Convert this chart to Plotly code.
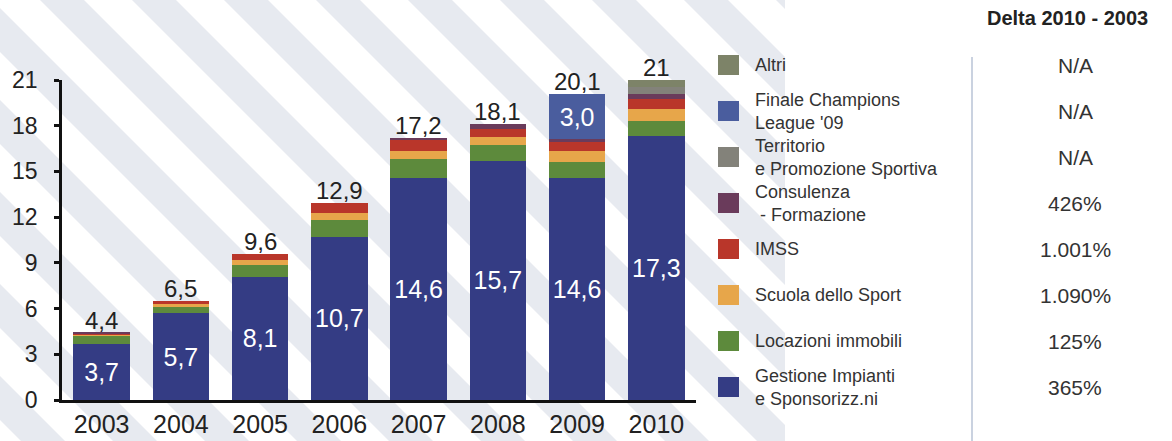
import plotly.graph_objects as go

# ---------------- data ----------------
years = ["2003", "2004", "2005", "2006", "2007", "2008", "2009", "2010"]
gestione = [3.7, 5.7, 8.1, 10.7, 14.6, 15.7, 14.6, 17.3]
locazioni = [0.5, 0.4, 0.75, 1.1, 1.2, 1.05, 1.0, 1.0]
scuola = [0.07, 0.2, 0.35, 0.45, 0.55, 0.5, 0.75, 0.8]
imss = [0.07, 0.2, 0.4, 0.65, 0.7, 0.55, 0.6, 0.65]
consulenza = [0.06, 0.0, 0.0, 0.0, 0.15, 0.3, 0.15, 0.35]
territorio = [0, 0, 0, 0, 0, 0, 0, 0.45]
champions = [0, 0, 0, 0, 0, 0, 3.0, 0]
altri = [0, 0, 0, 0, 0, 0, 0, 0.45]
totals = [4.4, 6.5, 9.6, 12.9, 17.2, 18.1, 20.1, 21]

legend_names = ["Altri", "Finale Champions<br>League '09", "Territorio<br>e Promozione Sportiva",
                "Consulenza<br>\u00a0- Formazione", "IMSS", "Scuola dello Sport",
                "Locazioni immobili", "Gestione Impianti<br>e Sponsorizz.ni"]
delta_values = ["N/A", "N/A", "N/A", "426%", "1.001%", "1.090%", "125%", "365%"]
delta_title = "Delta 2010 - 2003"
y_ticks = [0, 3, 6, 9, 12, 15, 18, 21]

# ---------------- style ----------------
FONT = "Liberation Sans, Arial, Helvetica, sans-serif"
TXT = "#222222"
colors = {
    "gestione": "#343c84",
    "locazioni": "#5d8a3c",
    "scuola": "#e7a64a",
    "imss": "#b9362a",
    "consulenza": "#6a3b5b",
    "territorio": "#83827a",
    "champions": "#4a5d9e",
    "altri": "#7d8368",
}
legend_colors = [colors["altri"], colors["champions"], colors["territorio"], colors["consulenza"],
                 colors["imss"], colors["scuola"], colors["locazioni"], colors["gestione"]]

W, H = 1172, 441
L, R, T, B = 62, 476, 80, 41
PW, PH = W - L - R, H - T - B


def px(x):
    return (x - L) / PW


def py(y):
    return (H - B - y) / PH


def fmt(v):
    if float(v).is_integer():
        return str(int(v))
    return f"{v:.1f}".replace(".", ",")


fig = go.Figure()

stack = [
    ("gestione", gestione, True),
    ("locazioni", locazioni, False),
    ("scuola", scuola, False),
    ("imss", imss, False),
    ("consulenza", consulenza, False),
    ("territorio", territorio, False),
    ("champions", champions, True),
    ("altri", altri, False),
]
for key, vals, labelled in stack:
    fig.add_trace(go.Bar(
        x=years, y=vals, name=key,
        marker=dict(color=colors[key], line=dict(width=0)),
        text=[f"{v:.1f}".replace(".", ",") if (labelled and v) else "" for v in vals],
        textposition="inside" if labelled else "none",
        insidetextanchor="middle",
        textangle=0,
        constraintext="none",
        insidetextfont=dict(family=FONT, size=25, color="white"),
        showlegend=False,
        hoverinfo="x+y+name",
    ))

# totals above bars (category index positions)
annotations = []
for i, t in enumerate(totals):
    annotations.append(dict(x=i, y=t, xref="x", yref="y", text=fmt(t), showarrow=False,
                            yanchor="bottom", yshift=-3,
                            font=dict(family=FONT, size=24, color=TXT)))

# background diagonal stripes (decoration)
shapes = []
XMAX = 785


def clip_poly(pts, xmax):
    out = []
    n = len(pts)
    for i in range(n):
        a, b = pts[i], pts[(i + 1) % n]
        ain, bin_ = a[0] <= xmax, b[0] <= xmax
        if ain:
            out.append(a)
        if ain != bin_:
            t = (xmax - a[0]) / (b[0] - a[0])
            out.append((xmax, a[1] + t * (b[1] - a[1])))
    return out


band_w = 44
for k in range(-8, 10):
    x0 = k * 92 + 20
    pts = [(x0, -20), (x0 + band_w, -20), (x0 + band_w + H + 40, H + 20), (x0 + H + 40, H + 20)]
    pts = clip_poly(pts, XMAX)
    if len(pts) < 3:
        continue
    path = "M " + " L ".join(f"{px(x):.5f},{py(y):.5f}" for x, y in pts) + " Z"
    shapes.append(dict(type="path", xref="paper", yref="paper", path=path,
                       fillcolor="#e7eaf0", line=dict(width=0), layer="below"))

# custom legend + delta column
row0, row_step = 65, 46
for i, (name, col, dv) in enumerate(zip(legend_names, legend_colors, delta_values)):
    yc = row0 + i * row_step
    shapes.append(dict(type="rect", xref="paper", yref="paper",
                       x0=px(718), x1=px(739), y0=py(yc - 10), y1=py(yc + 10),
                       fillcolor=col, line=dict(width=0), layer="above"))
    annotations.append(dict(x=px(753), y=py(yc), xref="paper", yref="paper", text=name,
                            showarrow=False, xanchor="left", yanchor="middle", align="left",
                            font=dict(family=FONT, size=18, color="#333333")))
    annotations.append(dict(x=px(1075), y=py(yc), xref="paper", yref="paper", text=dv,
                            showarrow=False, xanchor="center", yanchor="middle",
                            font=dict(family=FONT, size=21, color="#333333")))

annotations.append(dict(x=px(1067), y=py(18), xref="paper", yref="paper",
                        text=f"<b>{delta_title}</b>", showarrow=False,
                        xanchor="center", yanchor="middle",
                        font=dict(family=FONT, size=20, color="#222222")))

shapes.append(dict(type="line", xref="paper", yref="paper",
                   x0=px(972), x1=px(972), y0=py(57), y1=py(441),
                   line=dict(color="#b9c3d6", width=1.5), layer="below"))

fig.update_layout(
    width=W, height=H, autosize=False,
    margin=dict(l=L, r=R, t=T, b=B, pad=0, autoexpand=False),
    barmode="stack",
    bargap=0.29,
    separators=",.",
    paper_bgcolor="white",
    plot_bgcolor="rgba(0,0,0,0)",
    font=dict(family=FONT, color=TXT),
    shapes=shapes,
    annotations=annotations,
    showlegend=False,
    xaxis=dict(
        type="category", range=[-0.5, 7.5], showgrid=False, zeroline=False,
        showline=True, linecolor="#111111", linewidth=2.5,
        ticks="", tickfont=dict(family=FONT, size=25, color=TXT),
        ticklabelstandoff=0, fixedrange=True, automargin=False,
    ),
    yaxis=dict(
        range=[0, 21], tickvals=y_ticks, showgrid=False, zeroline=False,
        showline=True, linecolor="#111111", linewidth=2.5,
        ticks="outside", ticklen=5, tickwidth=2.5, tickcolor="#111111",
        tickfont=dict(family=FONT, size=23, color=TXT),
        ticklabelstandoff=12, fixedrange=True, automargin=False,
    ),
)

fig.write_html(
    "out.html",
    config={"responsive": False, "displayModeBar": False},
    post_script="document.body.style.margin='0';document.body.style.overflow='hidden';",
)
